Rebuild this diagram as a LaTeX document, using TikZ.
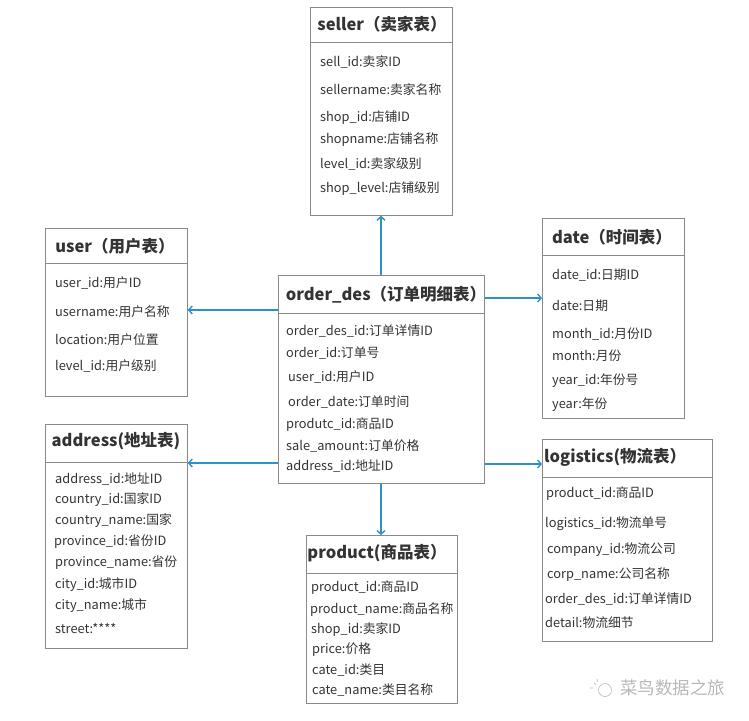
\documentclass[tikz,border=0pt]{standalone}
\usepackage{fontspec}
\setmainfont{Noto Sans CJK SC}
\usetikzlibrary{arrows.meta}
\definecolor{txt}{HTML}{333333}
\definecolor{bord}{HTML}{8A8A8A}
\definecolor{arrc}{HTML}{2B93C8}
\definecolor{wm}{HTML}{B8B8B8}
\tikzset{
  tbl/.style={draw=bord, line width=0.8pt, anchor=north west, inner sep=0pt},
  ttl/.style={anchor=center, font=\fontsize{16.5}{18}\selectfont\bfseries, text=txt, inner sep=0pt},
  row/.style={anchor=west, font=\fontsize{12.8}{14}\selectfont, text=txt, inner sep=0pt},
  sep/.style={draw=bord, line width=0.8pt},
  arr/.style={draw=arrc, line width=1.4pt, -{Straight Barb[length=3.5pt,width=8pt,line width=1.4pt]}}
}
\begin{document}
\begin{tikzpicture}[x=1pt,y=-1pt]
\useasboundingbox (0,0) rectangle (749,720);
% seller
\node[tbl, minimum width=142pt, minimum height=208pt] (seller) at (310,7) {};
\draw[sep] (310,42) -- (452,42);
\node[ttl] (sellerT) at (382,24) {seller（卖家表）};
\node[row] (s1) at (320,62) {sell\_id:卖家ID};
\node[row] (s2) at (320,90) {sellername:卖家名称};
\node[row] (s3) at (320,118) {shop\_id:店铺ID};
\node[row] (s4) at (320,140) {shopname:店铺名称};
\node[row] (s5) at (320,164) {level\_id:卖家级别};
\node[row] (s6) at (320,189) {shop\_level:店铺级别};
% user
\node[tbl, minimum width=142pt, minimum height=168pt] (user) at (45,228) {};
\draw[sep] (45,263) -- (187,263);
\node[ttl] (userT) at (115,246) {user（用户表）};
\node[row] (u1) at (55,283) {user\_id:用户ID};
\node[row] (u2) at (55,312) {username:用户名称};
\node[row] (u3) at (55,340) {location:用户位置};
\node[row] (u4) at (55,366) {level\_id:用户级别};
% order_des
\node[tbl, minimum width=206pt, minimum height=208pt] (order) at (278,275) {};
\draw[sep] (278,313) -- (484,313);
\node[ttl] (orderT) at (386,295) {order\_des（订单明细表）};
\node[row] (o1) at (286,331) {order\_des\_id:订单详情ID};
\node[row] (o2) at (286,353) {order\_id:订单号};
\node[row] (o3) at (288,377) {user\_id:用户ID};
\node[row] (o4) at (288,402) {order\_date:订单时间};
\node[row] (o5) at (286,425) {produtc\_id:商品ID};
\node[row] (o6) at (286,446) {sale\_amount:订单价格};
\node[row] (o7) at (286,466) {address\_id:地址ID};
% date
\node[tbl, minimum width=142pt, minimum height=200pt] (date) at (542,218) {};
\draw[sep] (542,255) -- (684,255);
\node[ttl] (dateT) at (612,237) {date（时间表）};
\node[row] (d1) at (552,275) {date\_id:日期ID};
\node[row] (d2) at (552,306) {date:日期};
\node[row] (d3) at (552,334) {month\_id:月份ID};
\node[row] (d4) at (552,356) {month:月份};
\node[row] (d5) at (552,381) {year\_id:年份号};
\node[row] (d6) at (552,405) {year:年份};
% address
\node[tbl, minimum width=142pt, minimum height=224pt] (addr) at (45,424) {};
\draw[sep] (45,462) -- (187,462);
\node[ttl] (addrT) at (116,441) {address(地址表)};
\node[row] (a1) at (55,479) {address\_id:地址ID};
\node[row] (a2) at (55,500) {country\_id:国家ID};
\node[row] (a3) at (55,521) {country\_name:国家};
\node[row] (a4) at (54,542) {province\_id:省份ID};
\node[row] (a5) at (55,563) {province\_name:省份};
\node[row] (a6) at (55,585) {city\_id:城市ID};
\node[row] (a7) at (55,606) {city\_name:城市};
\node[row] (a8) at (55,628) {street:****};
% logistics
\node[tbl, minimum width=170pt, minimum height=202pt] (logi) at (542,439) {};
\draw[sep] (542,477) -- (712,477);
\node[ttl, anchor=west] (logiT) at (544,457) {logistics(物流表）};
\node[row] (l1) at (546,494) {product\_id:商品ID};
\node[row] (l2) at (545,524) {logistics\_id:物流单号};
\node[row] (l3) at (547,550) {company\_id:物流公司};
\node[row] (l4) at (547,575) {corp\_name:公司名称};
\node[row] (l5) at (545,599) {order\_des\_id:订单详情ID};
\node[row] (l6) at (545,623) {detail:物流细节};
% product
\node[tbl, minimum width=151pt, minimum height=168pt] (prod) at (306,535) {};
\draw[sep] (306,573) -- (457,573);
\node[ttl] (prodT) at (377,553) {product(商品表）};
\node[row] (p1) at (311,588) {product\_id:商品ID};
\node[row] (p2) at (310,610) {product\_name:商品名称};
\node[row] (p3) at (311,630) {shop\_id:卖家ID};
\node[row] (p4) at (312,650) {price:价格};
\node[row] (p5) at (312,670) {cate\_id:类目};
\node[row] (p6) at (312,690) {cate\_name:类目名称};
% connectors
\draw[arr] (order.north -| 381,0) -- (seller.south -| 381,0);
\draw[arr] (order.west |- 0,310) -- (user.east |- 0,310);
\draw[arr] (order.east |- 0,298) -- (date.west |- 0,298);
\draw[arr] (order.west |- 0,463) -- (addr.east |- 0,463);
\draw[arr] (order.east |- 0,464) -- (logi.west |- 0,464);
\draw[arr] (order.south -| 381,0) -- (prod.north -| 381,0);
% watermark
\draw[wm, line width=0.6pt] (605,690) circle (6.5pt);
\draw[wm, line width=0.6pt] (594,683) -- (596,685) (597,679) -- (598,682) (590,688) -- (593,688);
\node[anchor=west, font=\fontsize{17.5}{19}\selectfont, text=wm, inner sep=0pt] (wmT) at (620,688) {菜鸟数据之旅};
\end{tikzpicture}
\end{document}
